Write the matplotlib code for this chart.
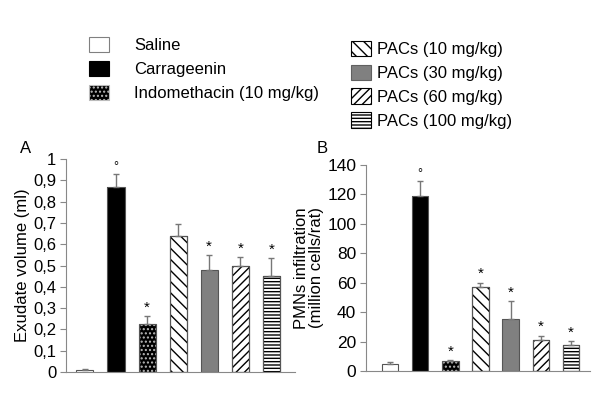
import matplotlib
matplotlib.use('Agg')
import matplotlib.pyplot as plt
from matplotlib.patches import Patch

plt.rcParams['font.family'] = ['Liberation Sans', 'DejaVu Sans']
plt.rcParams['hatch.linewidth'] = 1.0

groups = ['Saline', 'Carrageenin', 'Indomethacin (10 mg/kg)', 'PACs (10 mg/kg)',
          'PACs (30 mg/kg)', 'PACs (60 mg/kg)', 'PACs (100 mg/kg)']
exudate = [0.01, 0.87, 0.225, 0.64, 0.48, 0.50, 0.45]
exudate_err = [0.005, 0.06, 0.04, 0.055, 0.07, 0.04, 0.085]
exudate_marks = ['', '°', '*', '', '*', '*', '*']
pmn = [4.5, 119, 6.5, 57, 35.5, 21, 17.5]
pmn_err = [1.5, 10, 1, 3, 12, 3, 3]
pmn_marks = ['', '°', '*', '*', '*', '*', '*']

faces = ['white', 'black', 'black', 'white', '#808080', 'white', 'white']
hatches = [None, None, '....', '\\\\\\', None, '////', '-----']
hatch_cols = ['#808080', 'black', '#bbbbbb', 'black', '#606060', 'black', 'black']

fig = plt.figure(figsize=(6, 4), dpi=100)
axA = fig.add_axes([0.11, 0.07, 0.382, 0.5325])
axB = fig.add_axes([0.61, 0.0725, 0.373, 0.515])


def draw(ax, vals, errs, marks, ymax, step, xlim, fmt, off, tsize):
    x = list(range(len(vals)))
    for i in x:
        ax.bar(i, vals[i], width=0.55, color=faces[i], edgecolor=hatch_cols[i],
               hatch=hatches[i], linewidth=0.8 if hatches[i] else 0)
        ax.bar(i, vals[i], width=0.55, fill=False, edgecolor='#555555', linewidth=0.8)
    ax.errorbar(x, vals, yerr=[[0] * len(vals), errs], fmt='none',
                ecolor='#777777', elinewidth=1, capsize=2, capthick=1)
    for i in x:
        if marks[i]:
            ax.text(i, vals[i] + errs[i] + off, marks[i], ha='center', va='bottom',
                    fontsize=11 if marks[i] == '*' else 9)
    ax.set_xlim(*xlim)
    ax.set_ylim(0, ymax)
    ticks = [k * step for k in range(int(round(ymax / step)) + 1)]
    ax.set_yticks(ticks)
    ax.set_yticklabels([fmt(t) for t in ticks], fontsize=tsize)
    ax.set_xticks([])
    for s in ['top', 'right']:
        ax.spines[s].set_visible(False)
    for s in ['left', 'bottom']:
        ax.spines[s].set_color('#888888')
    ax.tick_params(axis='y', color='#888888', length=4, pad=3)


draw(axA, exudate, exudate_err, exudate_marks, 1.0, 0.1, (-0.61, 6.77),
     lambda t: '0' if t == 0 else ('1' if abs(t - 1) < 1e-9 else ('%.1f' % t).replace('.', ',')),
     0.005, 12)
axA.set_ylabel('Exudate volume (ml)', fontsize=12, labelpad=2)

draw(axB, pmn, pmn_err, pmn_marks, 140, 20, (-0.79, 6.62), lambda t: '%d' % t, 1, 12.5)
axB.set_ylabel('PMNs infiltration\n(million cells/rat)', fontsize=12, labelpad=2,
               linespacing=1.0)

fig.text(0.033, 0.617, 'A', fontsize=12)
fig.text(0.528, 0.617, 'B', fontsize=12)

handles = [Patch(facecolor=faces[i], edgecolor=hatch_cols[i], hatch=hatches[i],
                 linewidth=0.8) for i in range(len(groups))]
fig.legend(handles[:3], groups[:3], loc='upper left', bbox_to_anchor=(0.137, 0.925),
           frameon=False, fontsize=12, handlelength=1.2, handleheight=1.05,
           handletextpad=1.5, labelspacing=0.45, borderaxespad=0)
fig.legend(handles[3:], groups[3:], loc='upper left', bbox_to_anchor=(0.574, 0.915),
           frameon=False, fontsize=12, handlelength=1.2, handleheight=1.05,
           handletextpad=0.35, labelspacing=0.45, borderaxespad=0)

fig.savefig('out.png', dpi=100)
